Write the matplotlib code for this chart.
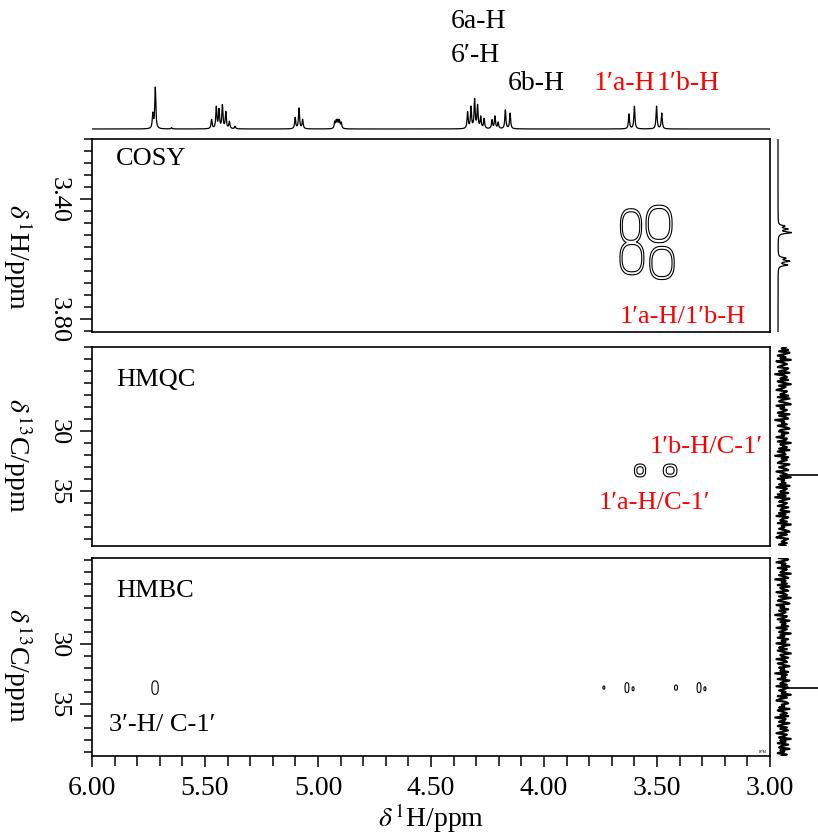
import numpy as np
import matplotlib
matplotlib.use("Agg")
import matplotlib.pyplot as plt
from matplotlib.ticker import MultipleLocator

plt.rcParams['font.family'] = ['Liberation Serif', 'DejaVu Serif']
plt.rcParams['mathtext.fontset'] = 'stix'

W, H = 818, 837

# --- 1H spectrum on top: peak positions (ppm) and relative heights
h1_ppm = [5.731, 5.720, 5.648,
          5.471, 5.450, 5.438, 5.423, 5.408, 5.392, 5.367,
          5.101, 5.084, 5.068,
          4.926, 4.919, 4.912, 4.905, 4.897,
          4.338, 4.323, 4.307, 4.294, 4.280, 4.265, 4.230, 4.217, 4.203, 4.171, 4.150,
          3.624, 3.600, 3.502, 3.479]
h1_amp = [0.35, 1.00, 0.03,
          0.22, 0.52, 0.45, 0.56, 0.40, 0.17, 0.06,
          0.27, 0.50, 0.22,
          0.16, 0.18, 0.18, 0.18, 0.14,
          0.40, 0.52, 0.70, 0.55, 0.28, 0.24, 0.21, 0.30, 0.15, 0.46, 0.38,
          0.36, 0.55, 0.55, 0.38]

# --- COSY projection (right side)
cosy_proj_ppm = [3.490, 3.500, 3.512, 3.597, 3.607, 3.620]
cosy_proj_amp = [6, 9, 13, 7, 11, 9]

# --- cross peaks
cosy_x = [3.615, 3.491, 3.611, 3.478]
cosy_y = [3.490, 3.483, 3.597, 3.613]
cosy_wx = [0.039, 0.048, 0.044, 0.045]
cosy_wy = [0.048, 0.052, 0.046, 0.046]

hmqc_x = [3.575, 3.442]
hmqc_y = [33.3, 33.3]
hmqc_wx = [0.023, 0.028]
hmqc_wy = [0.50, 0.50]

hmbc_x = [5.721, 3.735, 3.633, 3.606, 3.416, 3.314, 3.288]
hmbc_y = [33.6, 33.6, 33.6, 33.7, 33.6, 33.6, 33.7]
hmbc_wx = [0.013, 0.004, 0.008, 0.004, 0.006, 0.008, 0.004]
hmbc_wy = [0.52, 0.12, 0.38, 0.15, 0.20, 0.38, 0.15]

# --- 13C projections (noise trace, px) and the truncated C-1' peak
hmqc_proj = [2, -1, 4, -3, 5, 1, -4, 2, -2, 6, -5, 0, 3, -1, -4, 4, 2, -3, 5, -6,
             1, 3, -2, 4, -4, 0, 6, -3, 2, -1, -5, 3, 1, -2, 4, -4, 5, -1, -3, 2,
             6, -5, 1, -2, 3, 0, -4, 5, -3, 2, 4, -6, 1, -1, 3, -4, 2, 5, -2, -3,
             4, -1, 1, -5, 3, 2, -4, 6, -2, 0, 3, -3, 5, -4, 1, 2, -6, 4, -1, 3,
             -2, -4, 5, 1, -3, 2, 4, -5, 0, 3, -2, 6, -4, 1, -1, 2, -3, 5, -5, 3,
             1, -2, 4, -4, 2, -6, 5, 0, -3, 3, 1, -4, 4, -1, -2, 5, -3, 2, -5, 4,
             0, -2, 3, -4, 6, -1, 1, -3, 2, 5, -4, 3, -2, -5, 4, 1, -1, 3, -3, 2]
hmbc_proj = [-3, 4, 1, -5, 2, -1, 5, -4, 3, 0, -2, 6, -3, 1, 4, -6, 2, -1, 3, -4,
             5, -2, 0, 4, -5, 1, 3, -3, 6, -1, -4, 2, 5, -5, 1, -2, 4, -3, 2, 0,
             -6, 3, 1, -4, 5, -2, 2, -1, 4, -5, 3, 0, -3, 6, -2, 1, -4, 4, -1, 2,
             -5, 5, 0, -3, 3, -4, 1, 6, -2, -1, 4, -5, 2, 3, -4, 0, 5, -3, 1, -2,
             4, -6, 3, -1, 2, -4, 5, 0, -2, 3, -5, 4, 1, -3, 2, -1, 6, -4, 3, -2,
             -5, 2, 4, -1, 1, -3, 5, -4, 0, 3, -2, 4, -6, 2, 1, -3, 5, -1, -4, 3,
             -2, 4, 0, -5, 3, 1, -3, 6, -2, 2, -4, 4, -1, -3, 5, -2, 1, -4, 3, -1]
hmqc_spike = (33.67, 80)
hmbc_spike = (33.67, 80)

h1_lim = (6.0, 3.0)
cosy_lim = (3.843, 3.20)
hmqc_lim = (39.6, 23.0)
hmbc_lim = (39.3, 22.8)


def px_axes(fig, x0, y0, x1, y1):
    return fig.add_axes([x0 / W, 1 - y1 / H, (x1 - x0) / W, (y1 - y0) / H])


def lorentz(x, pos, amp, hw):
    out = np.zeros_like(x)
    for p, a in zip(pos, amp):
        out += a * hw ** 2 / ((x - p) ** 2 + hw ** 2)
    return out


def blobs(X, Y, xs, ys, wx, wy, p=2.6):
    Z = np.zeros_like(X)
    for x0, y0, a, b in zip(xs, ys, wx, wy):
        Z = np.maximum(Z, np.exp(-(np.abs((X - x0) / a) ** p + np.abs((Y - y0) / b) ** p)))
    return Z


def style_2d(ax, ylim, major, minor, labels):
    ax.set_xlim(*h1_lim)
    ax.set_ylim(*ylim)
    for s in ax.spines.values():
        s.set_linewidth(1.2)
    ax.set_yticks(major)
    ax.set_yticklabels(labels)
    ax.yaxis.set_minor_locator(MultipleLocator(minor))
    ax.tick_params(axis='y', which='major', length=9, width=1.1, pad=7, labelsize=19)
    ax.tick_params(axis='y', which='minor', length=6, width=1.1)
    for t in ax.get_yticklabels():
        t.set_rotation(270)
        t.set_va('center')
    ax.set_xticks([])


fig = plt.figure(figsize=(W / 100, H / 100), dpi=100)

# top 1D spectrum
ax_top = px_axes(fig, 92, 81, 770, 131)
xx = np.linspace(6.0, 3.0, 6000)
spec = lorentz(xx, h1_ppm, h1_amp, 0.0028)
spec = spec / spec.max()
ax_top.plot(xx, spec, color='black', lw=0.9)
ax_top.set_xlim(*h1_lim)
ax_top.set_ylim(-0.024, 1.166)
ax_top.axis('off')

# COSY
ax1 = px_axes(fig, 92, 140, 770, 333)
style_2d(ax1, cosy_lim, [3.40, 3.80], 0.04, ['3.40', '3.80'])
X, Y = np.meshgrid(np.linspace(3.8, 3.3, 500), np.linspace(3.3, 3.8, 500))
ax1.contour(X, Y, blobs(X, Y, cosy_x, cosy_y, cosy_wx, cosy_wy), levels=[0.2, 0.38],
            colors='black', linewidths=0.8)
ax1.text(0.035, 0.9, 'COSY', transform=ax1.transAxes, fontsize=19, va='center')
ax1.text(3.385, 3.79, '1′a-H/1′b-H', color='red', fontsize=19, ha='center', va='center')

# HMQC
ax2 = px_axes(fig, 92, 348, 770, 547)
style_2d(ax2, hmqc_lim, [30, 35], 1, ['30', '35'])
X, Y = np.meshgrid(np.linspace(3.7, 3.3, 600), np.linspace(31, 36, 300))
ax2.contour(X, Y, blobs(X, Y, hmqc_x, hmqc_y, hmqc_wx, hmqc_wy), levels=[0.3, 0.75],
            colors='black', linewidths=0.8)
ax2.text(0.035, 0.84, 'HMQC', transform=ax2.transAxes, fontsize=19, va='center')
ax2.text(3.283, 31.25, '1′b-H/C-1′', color='red', fontsize=19, ha='center', va='center')
ax2.text(3.513, 35.9, '1′a-H/C-1′', color='red', fontsize=19, ha='center', va='center')

# HMBC
ax3 = px_axes(fig, 92, 559, 770, 757)
style_2d(ax3, hmbc_lim, [30, 35], 1, ['30', '35'])
X, Y = np.meshgrid(np.linspace(6.0, 3.0, 3000), np.linspace(31, 36, 300))
ax3.contour(X, Y, blobs(X, Y, hmbc_x, hmbc_y, hmbc_wx, hmbc_wy), levels=[0.3],
            colors='black', linewidths=0.8)
ax3.text(0.035, 0.84, 'HMBC', transform=ax3.transAxes, fontsize=19, va='center')
ax3.text(5.925, 36.6, '3′-H/ C-1′', fontsize=19, va='center')
ax3.text(3.015, 38.9, 'PPM', fontsize=3, ha='right', va='center')
ax3.set_xticks(np.arange(3.0, 6.01, 0.5))
ax3.set_xticklabels(['%.2f' % v for v in np.arange(3.0, 6.01, 0.5)])
ax3.xaxis.set_minor_locator(MultipleLocator(0.1))
ax3.tick_params(axis='x', which='major', length=8, width=1.1, pad=6, labelsize=20)
ax3.tick_params(axis='x', which='minor', length=7, width=1.1)

# right projections
axr1 = px_axes(fig, 770, 140, 818, 333)
yy = np.linspace(*cosy_lim, 800)
axr1.plot(lorentz(yy, cosy_proj_ppm, cosy_proj_amp, 0.003), yy, color='black', lw=0.9)
axr1.set_xlim(-8, 40)
axr1.set_ylim(*cosy_lim)
axr1.axis('off')

for ax_lim, box, noise, spike in [(hmqc_lim, (348, 547), hmqc_proj, hmqc_spike),
                                  (hmbc_lim, (559, 757), hmbc_proj, hmbc_spike)]:
    axr = px_axes(fig, 770, box[0], 818, box[1])
    yy = np.linspace(ax_lim[1], ax_lim[0], len(noise))
    axr.plot(noise, yy, color='black', lw=1.6)
    axr.plot([0, spike[1]], [spike[0], spike[0]], color='black', lw=1.2)
    axr.set_xlim(-10, 27)
    axr.set_ylim(*ax_lim)
    axr.axis('off')

# labels
def ftext(x, y, s, **kw):
    fig.text(x / W, 1 - y / H, s, ha='center', va='center', **kw)

ftext(478, 22, '6a-H', fontsize=20)
ftext(475, 55, '6′-H', fontsize=20)
ftext(536, 84, '6b-H', fontsize=20)
ftext(624, 84, '1′a-H', fontsize=20, color='red')
ftext(688, 84, '1′b-H', fontsize=20, color='red')

ftext(18, 257, r'$\delta\,^{1}$H/ppm', fontsize=20, rotation=270)
ftext(18, 455, r'$\delta\,^{13}$C/ppm', fontsize=20, rotation=270)
ftext(18, 665, r'$\delta\,^{13}$C/ppm', fontsize=20, rotation=270)
ftext(431, 818, r'$\delta\,^{1}$H/ppm', fontsize=20)

fig.savefig('out.png', dpi=100)
